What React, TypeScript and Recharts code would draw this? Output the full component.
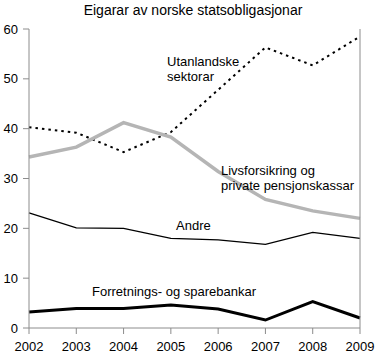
import * as React from 'react';
import { Line, LineChart, XAxis, YAxis } from 'recharts';

const years = ['2002', '2003', '2004', '2005', '2006', '2007', '2008', '2009'];
const utanlandske = [40.3, 39.2, 35.3, 39.3, 47.8, 56.3, 52.7, 58.5];
const livsforsikring = [34.3, 36.3, 41.2, 38.3, 31.4, 25.8, 23.5, 22.0];
const andre = [23.1, 20.1, 20.0, 18.0, 17.7, 16.8, 19.2, 18.0];
const forretnings = [3.2, 3.9, 3.9, 4.6, 3.8, 1.6, 5.3, 2.0];
const yTicks = [0, 10, 20, 30, 40, 50, 60];

const data = years.map((year, i) => ({
  year,
  utanlandske: utanlandske[i],
  livsforsikring: livsforsikring[i],
  andre: andre[i],
  forretnings: forretnings[i],
}));

const font = '"Liberation Sans", Arial, sans-serif';
const axisColor = '#8c8c8c';
const tickStyle = { fill: '#000', fontSize: 13, fontFamily: font };

const labelStyle: React.CSSProperties = {
  position: 'absolute',
  fontFamily: font,
  fontSize: 13,
  lineHeight: '15px',
  color: '#000',
  whiteSpace: 'nowrap',
};

export default function App() {
  return (
    <div style={{ position: 'absolute', left: 0, top: 0, width: 386, height: 360, background: '#fff' }}>
      <div
        style={{
          position: 'absolute',
          top: 2,
          left: 0,
          width: 386,
          textAlign: 'center',
          fontFamily: font,
          fontSize: 14,
          color: '#000',
        }}
      >
        Eigarar av norske statsobligasjonar
      </div>
      <LineChart width={386} height={360} data={data} margin={{ top: 29, right: 0, bottom: 0, left: 0 }}>
        <XAxis
          dataKey="year"
          height={32}
          interval={0}
          stroke={axisColor}
          tick={tickStyle}
          tickSize={6}
          tickMargin={8}
        />
        <YAxis
          yAxisId="left"
          width={29}
          domain={[0, 60]}
          ticks={yTicks}
          stroke={axisColor}
          tick={tickStyle}
          tickSize={6}
          tickMargin={5}
        />
        <YAxis
          yAxisId="right"
          orientation="right"
          width={26}
          domain={[0, 60]}
          ticks={yTicks}
          stroke={axisColor}
          tick={tickStyle}
          tickSize={6}
          tickMargin={4}
        />
        <Line
          yAxisId="left"
          dataKey="utanlandske"
          stroke="#000"
          strokeWidth={2}
          strokeDasharray="2.5 4"
          dot={false}
          isAnimationActive={false}
        />
        <Line
          yAxisId="left"
          dataKey="livsforsikring"
          stroke="#b5b5b5"
          strokeWidth={3.5}
          dot={false}
          isAnimationActive={false}
        />
        <Line
          yAxisId="left"
          dataKey="andre"
          stroke="#000"
          strokeWidth={1.3}
          dot={false}
          isAnimationActive={false}
        />
        <Line
          yAxisId="left"
          dataKey="forretnings"
          stroke="#000"
          strokeWidth={3}
          dot={false}
          isAnimationActive={false}
        />
      </LineChart>
      <div style={{ ...labelStyle, left: 167, top: 54 }}>
        Utanlandske
        <br />
        sektorar
      </div>
      <div style={{ ...labelStyle, left: 221, top: 163 }}>
        Livsforsikring og
        <br />
        private pensjonskassar
      </div>
      <div style={{ ...labelStyle, left: 176, top: 218 }}>Andre</div>
      <div style={{ ...labelStyle, left: 92, top: 284 }}>Forretnings- og sparebankar</div>
    </div>
  );
}
